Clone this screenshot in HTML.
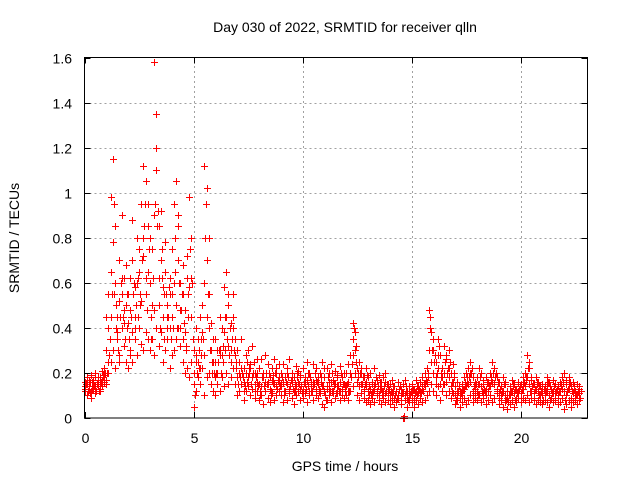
<!DOCTYPE html>
<html><head><meta charset="utf-8"><style>
body{margin:0;background:#fff}
svg{display:block;font-family:"Liberation Sans",sans-serif}
</style></head><body>
<svg width="640" height="480" viewBox="0 0 640 480">
<rect width="640" height="480" fill="#fff"/>
<text x="345" y="32" text-anchor="middle" font-size="14">Day 030 of 2022, SRMTID for receiver qlln</text>
<g id="grid"></g>
<g id="ticks"></g>
<g id="marks"></g>
<rect x="84.5" y="57.5" width="503" height="360.5" fill="none" stroke="#000"/>
<text x="345" y="471" text-anchor="middle" font-size="14">GPS time / hours</text>
<text transform="translate(19,238) rotate(-90)" text-anchor="middle" font-size="14">SRMTID / TECUs</text>
</svg>
<script>
const xTicks=[0,5,10,15,20];
const yTicks=[0,0.2,0.4,0.6,0.8,1,1.2,1.4,1.6];
const yTickLabels=["0","0.2","0.4","0.6","0.8","1","1.2","1.4","1.6"];
const tStep=0.1;
const seriesOffsets=[0,0,0,0.033,0.066];
const seriesA=[.12,.10,.14,.09,.13,.11,.15,.12,.14,.16,
.15,.20,.25,.30,.22,.35,.28,.40,.32,.25,
.22,.30,.25,.35,.28,.40,.33,.30,.38,.35,
.30,.35,.28,.40,.32,.38,.25,.30,.35,.22,
.28,.30,.35,.40,.32,.25,.20,.22,.18,.25,
.05,.12,.18,.15,.22,.10,.18,.20,.15,.12,
.10,.15,.12,.18,.14,.20,.15,.18,.22,.15,
.10,.12,.15,.08,.12,.14,.10,.13,.09,.12,
.08,.10,.06,.12,.09,.07,.11,.08,.10,.12,
.10,.07,.12,.08,.11,.09,.06,.10,.12,.08,
.09,.11,.07,.10,.12,.08,.10,.09,.11,.06,
.05,.08,.10,.07,.12,.09,.11,.08,.10,.09,
.10,.08,.12,.14,.20,.10,.08,.11,.09,.07,
.08,.06,.09,.07,.10,.08,.06,.09,.07,.08,
.06,.08,.05,.07,.09,.06,.00,.08,.05,.07,
.07,.05,.08,.06,.09,.07,.08,.10,.12,.15,
.12,.10,.14,.08,.12,.15,.10,.12,.09,.11,
.06,.08,.05,.07,.09,.06,.08,.10,.07,.09,
.08,.10,.07,.09,.06,.08,.10,.07,.09,.11,
.06,.08,.05,.07,.04,.06,.08,.05,.07,.09,
.07,.09,.08,.10,.07,.09,.08,.06,.08,.07,
.06,.08,.07,.05,.09,.07,.08,.06,.07,.09,
.04,.06,.08,.05,.07,.09,.06,.08];
const seriesB=[.16,.18,.13,.19,.17,.20,.14,.18,.21,.19,
.45,.55,.98,.78,.60,.45,.70,.55,.62,.50,
.55,.62,.70,.58,.80,.65,.95,.72,1.05,.85,
.60,.75,.90,1.35,.85,.70,.58,.65,.50,.62,
.75,.95,1.05,.70,.60,.55,.48,.62,.98,.80,
.30,.40,.25,.45,.38,.60,1.02,.80,.42,.35,
.35,.30,.45,.40,.58,.65,.50,.42,.55,.35,
.30,.25,.35,.22,.28,.30,.24,.32,.20,.26,
.22,.26,.20,.28,.24,.18,.22,.26,.20,.24,
.20,.24,.18,.22,.26,.20,.18,.23,.21,.19,
.22,.18,.25,.20,.16,.24,.22,.18,.20,.25,
.18,.22,.20,.24,.17,.21,.19,.23,.18,.20,
.20,.24,.28,.42,.30,.22,.25,.20,.18,.22,
.18,.20,.15,.22,.17,.19,.16,.18,.20,.15,
.15,.17,.14,.12,.16,.13,.15,.17,.12,.14,
.15,.13,.17,.14,.16,.18,.20,.22,.48,.38,
.30,.25,.35,.28,.22,.32,.26,.30,.20,.24,
.14,.16,.12,.15,.18,.20,.22,.25,.18,.16,
.18,.22,.20,.15,.18,.16,.20,.25,.22,.18,
.16,.14,.18,.15,.12,.14,.17,.15,.13,.16,
.15,.18,.20,.28,.22,.17,.15,.18,.16,.14,
.15,.14,.18,.16,.13,.17,.15,.14,.16,.18,
.20,.15,.18,.14,.16,.12,.15,.14];
const seriesC=[.14,.15,.17,.12,.16,.14,.18,.15,.17,.22,
.30,.40,.65,1.15,.85,.38,.52,.90,.42,.68,
.42,.48,.88,.45,.60,.75,.52,1.12,.62,.95,
.80,.50,1.58,1.10,.62,.92,.45,.78,.40,.55,
.45,.60,.50,.85,.40,.68,.38,.72,.58,.45,
.20,.28,.35,.22,.50,1.12,.70,.55,.30,.25,
.25,.20,.30,.28,.38,.45,.32,.30,.40,.28,
.18,.20,.22,.16,.20,.18,.22,.18,.15,.20,
.15,.14,.18,.12,.16,.13,.17,.15,.14,.16,
.14,.16,.12,.15,.13,.17,.12,.14,.16,.13,
.13,.15,.17,.12,.14,.16,.13,.15,.12,.14,
.12,.14,.13,.16,.11,.15,.14,.12,.13,.15,
.14,.16,.20,.35,.38,.16,.14,.15,.13,.16,
.12,.13,.11,.14,.12,.10,.13,.12,.11,.12,
.10,.11,.09,.12,.10,.08,.11,.10,.09,.11,
.10,.09,.12,.11,.12,.13,.15,.16,.30,.25,
.20,.18,.22,.15,.18,.20,.16,.18,.14,.16,
.10,.11,.09,.12,.13,.14,.15,.16,.12,.11,
.12,.15,.14,.11,.13,.12,.14,.16,.15,.13,
.11,.10,.12,.10,.09,.10,.12,.11,.09,.12,
.11,.13,.14,.18,.15,.12,.11,.13,.12,.10,
.10,.11,.12,.10,.09,.12,.11,.10,.12,.13,
.12,.10,.13,.09,.11,.08,.10,.11];
const seriesD=[.13,.15,.11,.16,.14,.12,.17,.13,.18,.20,
.20,.28,.45,.55,.40,.30,.45,.62,.48,.40,
.35,.45,.55,.40,.62,.50,.70,.85,.55,.65,
.45,.62,.95,.85,.50,.75,.35,.55,.45,.40,
.55,.80,.40,.60,.48,.35,.30,.45,.75,.60,
.15,.25,.30,.28,.35,.80,.45,.40,.25,.20,
.20,.25,.28,.32,.30,.35,.28,.25,.45,.22,
.15,.18,.20,.12,.16,.22,.15,.20,.12,.16,
.12,.18,.14,.20,.15,.12,.16,.20,.13,.18,
.15,.12,.16,.18,.14,.16,.12,.18,.15,.14,
.12,.16,.14,.18,.12,.15,.17,.12,.16,.14,
.10,.13,.16,.12,.15,.11,.14,.16,.12,.14,
.15,.12,.18,.28,.25,.18,.20,.15,.12,.14,
.14,.10,.12,.15,.11,.13,.10,.14,.12,.10,
.08,.12,.10,.09,.13,.10,.01,.12,.08,.10,
.12,.08,.10,.13,.11,.12,.14,.18,.40,.30,
.25,.15,.28,.20,.15,.25,.20,.22,.12,.18,
.08,.12,.10,.09,.14,.16,.18,.20,.10,.13,
.10,.18,.12,.13,.10,.14,.17,.20,.18,.12,
.09,.12,.15,.08,.07,.12,.14,.08,.11,.13,
.09,.15,.17,.22,.12,.14,.09,.15,.10,.12,
.08,.13,.15,.08,.11,.14,.12,.09,.14,.16,
.08,.12,.15,.07,.13,.10,.12,.09];
const seriesE=[.15,.12,.16,.13,.18,.15,.12,.16,.19,.17,
.25,.35,.55,.95,.50,.25,.60,.45,.35,.55,
.28,.38,.60,.50,.45,.55,.80,.95,.48,.75,
.35,.48,1.20,.92,.40,.62,.55,.45,.58,.35,
.40,.65,.90,.48,.55,.42,.32,.55,.62,.35,
.10,.20,.22,.35,.28,.95,.55,.30,.20,.18,
.15,.30,.20,.25,.45,.55,.40,.35,.30,.25,
.12,.22,.18,.14,.25,.20,.18,.25,.18,.14,
.10,.20,.16,.15,.20,.10,.19,.22,.17,.14,
.18,.10,.20,.12,.17,.13,.15,.20,.18,.11,
.16,.13,.20,.15,.14,.20,.16,.13,.18,.22,
.08,.18,.12,.20,.14,.18,.12,.20,.15,.12,
.12,.20,.24,.40,.32,.20,.22,.18,.15,.19,
.10,.16,.13,.18,.14,.16,.12,.16,.15,.13,
.12,.14,.12,.10,.14,.11,.00,.14,.10,.12,
.13,.11,.14,.12,.14,.15,.17,.20,.45,.35,
.28,.20,.32,.18,.20,.28,.22,.25,.16,.20,
.12,.14,.11,.13,.16,.18,.20,.22,.14,.15,
.15,.20,.17,.12,.16,.14,.18,.22,.20,.16,
.13,.11,.16,.12,.10,.12,.15,.13,.12,.14,
.13,.16,.18,.25,.18,.15,.13,.16,.14,.12,
.13,.12,.16,.14,.11,.15,.13,.12,.15,.16,
.17,.13,.16,.12,.14,.10,.13,.12];
const X0=84.5,X1=587.5,Y0=418,Y1=57.5,XMAX=23.07,YMAX=1.6;
const sx=v=>X0+(X1-X0)*v/XMAX;
const sy=v=>Y0-(Y0-Y1)*v/YMAX;
const NS="http://www.w3.org/2000/svg";
const grid=document.getElementById('grid'),ticks=document.getElementById('ticks'),marks=document.getElementById('marks');
function mk(tag,attrs,parent){const e=document.createElementNS(NS,tag);for(const k in attrs)e.setAttribute(k,attrs[k]);parent.appendChild(e);return e;}
xTicks.forEach(t=>{
 const x=Math.round(sx(t))+0.5;
 if(t>0){const g=mk('line',{x1:x,x2:x,y1:Y0,y2:Y1,stroke:'#a0a0a0','stroke-dasharray':'2,3'},grid);
 
 }
 const tk=mk('path',{d:`M${x} ${Y0}v-6M${x} ${Y1}v6`,stroke:'#000'},ticks);
 
 
 const l=mk('text',{x:x,y:443,'text-anchor':'middle','font-size':14},ticks);l.textContent=t;
 
 
});
yTicks.forEach((t,i)=>{
 const y=Math.round(sy(t))+0.5;
 if(i>0&&i<yTicks.length-1){const g=mk('line',{x1:X0,x2:X1,y1:y,y2:y,stroke:'#a0a0a0','stroke-dasharray':'2,3'},grid);
 
 }
 const tk=mk('path',{d:`M${X0} ${y}h6M${X1} ${y}h-6`,stroke:'#000'},ticks);
 
 
 const l=mk('text',{x:72,y:y+5,'text-anchor':'end','font-size':14},ticks);l.textContent=yTickLabels[i];
 
 
});
[seriesA,seriesB,seriesC,seriesD,seriesE].forEach((s,si)=>{
 let d='';
 s.forEach((v,i)=>{const x=Math.round(sx(seriesOffsets[si]+i*tStep))+0.5,y=Math.round(sy(v))+0.5;d+=`M${x-3.5} ${y}h7M${x} ${y-3.5}v7`;});
 const p=mk('path',{d:d,stroke:'#ff0000','stroke-width':1,fill:'none'},marks);
 
 
});
</script>
</body></html>
